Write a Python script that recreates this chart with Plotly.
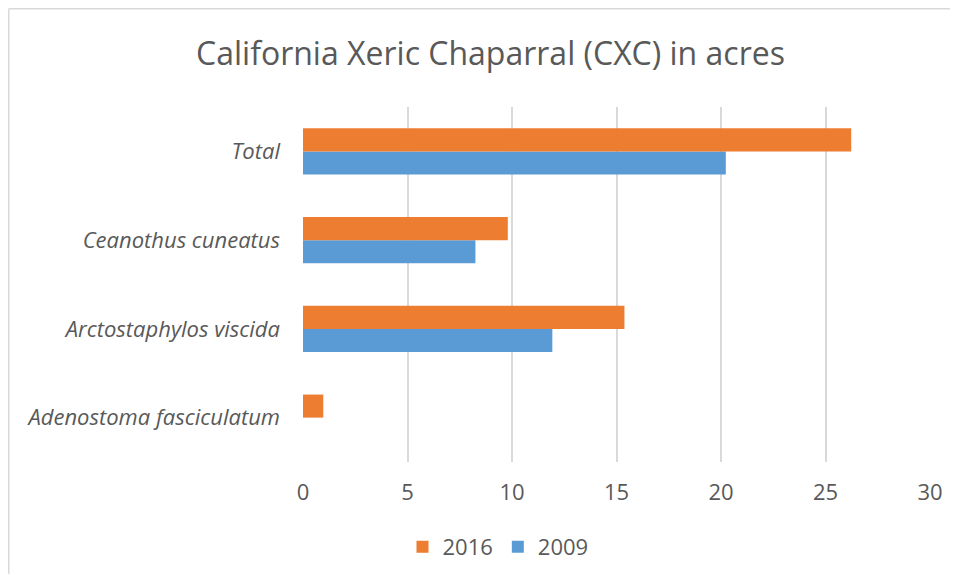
import plotly.graph_objects as go

categories = ["Adenostoma fasciculatum", "Arctostaphylos viscida", "Ceanothus cuneatus", "Total"]
values_2009 = [0, 11.93, 8.25, 20.23]
values_2016 = [0.97, 15.38, 9.80, 26.23]
x_ticks = [0, 5, 10, 15, 20, 25, 30]

TEXT = "#595959"
GRID = "#D9D9D9"

fig = go.Figure()
fig.add_trace(go.Bar(y=categories, x=values_2009, name="2009", orientation="h",
                     marker=dict(color="#5B9BD5", line=dict(width=0))))
fig.add_trace(go.Bar(y=categories, x=values_2016, name="2016", orientation="h",
                     marker=dict(color="#ED7D31", line=dict(width=0))))

OFF = 8  # page body margin
W, H = 942, 566
L = 303 - OFF
T = 107 - OFF
R = W - (930 - OFF)
B = H - (462 - OFF)
pw = W - L - R
ph = H - T - B

def px_x(sx):
    return (sx - OFF - L) / pw

def px_y(sy):
    return (T + ph - (sy - OFF)) / ph

frame = dict(color=GRID, width=1.5)

fig.update_layout(
    width=W, height=H,
    margin=dict(l=L, r=R, t=T, b=B, pad=0, autoexpand=False),
    paper_bgcolor="white", plot_bgcolor="white",
    barmode="group", bargap=0.48, bargroupgap=0,
    title=dict(text="California Xeric Chaparral (CXC) in acres",
               x=(490.5 - OFF) / W, xanchor="center", y=1 - (53.5 - OFF) / H, yanchor="middle",
               font=dict(family="Open Sans", size=32, color=TEXT)),
    font=dict(family="Open Sans", color=TEXT),
    xaxis=dict(range=[0, 30], tickvals=x_ticks, showgrid=True, gridcolor=GRID, gridwidth=1.5,
               zeroline=False, showline=False, ticks="", ticklabelstandoff=15, automargin=False,
               tickfont=dict(family="Open Sans", size=22, color=TEXT)),
    yaxis=dict(categoryorder="array", categoryarray=categories, showgrid=False,
               zeroline=False, showline=False, ticks="", ticklabelstandoff=22, automargin=False,
               tickfont=dict(family="Open Sans", size=22, color=TEXT, style="italic")),
    legend=dict(orientation="h", traceorder="reversed",
                xref="container", yref="container",
                x=(498 - OFF) / W, xanchor="center",
                y=1 - (547 - OFF) / H, yanchor="middle",
                font=dict(family="Open Sans", size=22, color=TEXT)),
    shapes=[
        dict(type="line", xref="paper", yref="paper",
             x0=px_x(8.75), x1=px_x(1000), y0=px_y(8.75), y1=px_y(8.75), line=frame, layer="below"),
        dict(type="line", xref="paper", yref="paper",
             x0=px_x(8.75), x1=px_x(8.75), y0=px_y(8.75), y1=px_y(640), line=frame, layer="below"),
    ],
)

fig.write_html("out.html")
